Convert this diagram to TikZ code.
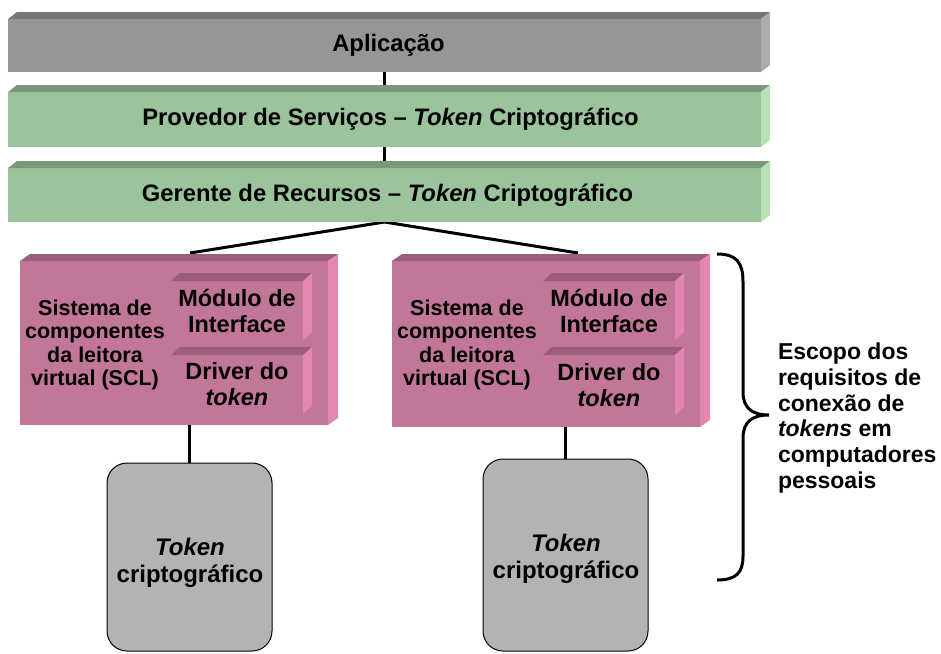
\documentclass[tikz,border=0pt]{standalone}
\usepackage{fontspec}
\setmainfont{Liberation Sans}
\usetikzlibrary{calc,backgrounds}
\definecolor{appfront}{RGB}{150,150,150}
\definecolor{apptop}{RGB}{118,118,118}
\definecolor{appside}{RGB}{172,172,172}
\definecolor{layfront}{RGB}{156,196,156}
\definecolor{laytop}{RGB}{122,152,122}
\definecolor{layside}{RGB}{182,226,182}
\definecolor{sclfront}{RGB}{194,118,153}
\definecolor{scltop}{RGB}{156,92,124}
\definecolor{sclside}{RGB}{226,134,178}
\definecolor{tokfill}{RGB}{179,179,179}
% top face and right face of a box node
\def\bevel(#1)(#2:#3)[#4][#5]{%
  \fill[#4] (#1.north west) -- ++(#2,-#3) -- ($(#1.north east)+(#2,-#3)$) -- (#1.north east) -- cycle;
  \fill[#5] (#1.north east) -- ++(#2,-#3) -- ($(#1.south east)+(#2,-#3)$) -- (#1.south east) -- cycle;}

\begin{document}
\begin{tikzpicture}[x=1pt,y=-1pt,
    slab/.style={rectangle, outer sep=0pt, inner sep=0pt, align=center,
      font=\bfseries\fontsize{23.8}{26}\selectfont},
    sclbox/.style={slab, fill=sclfront, minimum width=308pt},
    subbox/.style={slab, fill=sclfront, minimum width=132pt, minimum height=59pt,
      font=\bfseries\fontsize{23.5}{26}\selectfont},
    scltext/.style={slab, font=\bfseries\fontsize{21.5}{23.5}\selectfont},
    tokbox/.style={slab, draw=black, line width=1pt, fill=tokfill, rounded corners=20pt,
      minimum width=165pt},
    toktext/.style={slab, font=\bfseries\fontsize{24}{27}\selectfont},
    link/.style={line width=3pt}]
			%%%%% START %%%%%
			\useasboundingbox (0,0) rectangle (941,653);
			
			\node[slab, fill=appfront, minimum width=753pt, minimum height=53pt] (app) at (384.5,45.5) {\hspace*{8pt}Aplicação};
			\bevel(app)(9:7)[apptop][appside]
			
			\node[slab, fill=layfront, minimum width=753pt, minimum height=55pt] (spv) at (384.5,119.5) {\hspace*{12pt}Provedor de Serviços – \textit{Token} Criptográfico};
			\bevel(spv)(9:7)[laytop][layside]
			
			\node[slab, fill=layfront, minimum width=753pt, minimum height=54pt] (grc) at (384.5,195) {\hspace*{6pt}Gerente de Recursos – \textit{Token} Criptográfico};
			\bevel(grc)(9:7)[laytop][layside]
			
			\node[sclbox, minimum height=164pt] (sclA) at (174,343) {};
			\bevel(sclA)(10:7)[scltop][sclside]
			\node[scltext] (sclAtext) at (95,345) {Sistema de\\componentes\\da leitora\\virtual (SCL)};
			\node[subbox] (modA) at (237,310.5) {Módulo de\\Interface};
			\bevel(modA)(9:8)[scltop][sclside]
			\node[subbox] (drvA) at (237,384.5) {Driver do\\\textit{token}};
			\bevel(drvA)(9:8)[scltop][sclside]
			
			\node[sclbox, minimum height=166pt] (sclB) at (546,344) {};
			\bevel(sclB)(10:7)[scltop][sclside]
			\node[scltext] (sclBtext) at (467,345) {Sistema de\\componentes\\da leitora\\virtual (SCL)};
			\node[subbox] (modB) at (609,310.5) {Módulo de\\Interface};
			\bevel(modB)(9:8)[scltop][sclside]
			\node[subbox, minimum height=60pt] (drvB) at (609,385) {Driver do\\\textit{token}};
			\bevel(drvB)(9:8)[scltop][sclside]
			
			\node[tokbox, minimum height=188pt] (tokA) at (189.5,557) {};
			\node[toktext] (tokAtext) at (190,563) {\textit{Token}\\criptográfico};
			\node[tokbox, minimum height=192pt] (tokB) at (565.5,555) {};
			\node[toktext] (tokBtext) at (566,559) {\textit{Token}\\criptográfico};
			
			\begin{pgfonlayer}{background}
			\draw[link] (app.south) -- (spv.north);
			\draw[link] (spv.south) -- (grc.north);
			\draw[link] (grc.south) -- ($(sclA.north)+(16,-8)$);
			\draw[link] (grc.south) -- ($(sclB.north)+(32,-8)$);
			\draw[link] (tokA.north) -- (tokA.north |- sclA.south);
			\draw[link] (tokB.north) -- (tokB.north |- sclB.south);
			\end{pgfonlayer}
			
			\draw[line width=3pt] (717,254) .. controls (736,254) and (743,262) .. (743,282) -- (743,392)
			  .. controls (743,408) and (752,415) .. (769,415) .. controls (752,415) and (743,422) .. (743,438)
			  -- (743,556) .. controls (743,573) and (736,580) .. (717,580);
			\node[slab, anchor=west, align=left, font=\bfseries\fontsize{23}{25.8}\selectfont] (scope) at (778,418) {Escopo dos\\requisitos de\\conexão de\\\textit{tokens} em\\computadores\\pessoais};
			%%%%% END %%%%%
\end{tikzpicture}
\end{document}
